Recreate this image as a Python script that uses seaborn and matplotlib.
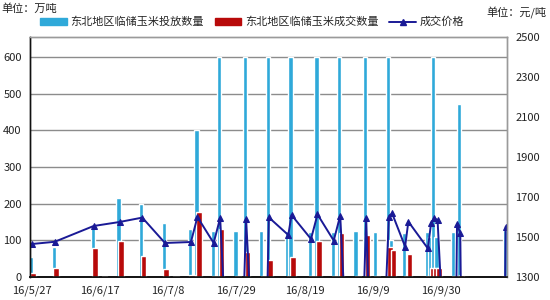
import matplotlib
matplotlib.use("Agg")
import matplotlib.pyplot as plt
import matplotlib.dates as mdates
from matplotlib.patches import Patch
from matplotlib.lines import Line2D
import numpy as np
import pandas as pd
import seaborn as sns

# ---------------- data ----------------
dates = ["2016-05-27", "2016-06-03", "2016-06-15", "2016-06-18", "2016-06-23",
         "2016-06-30", "2016-07-07", "2016-07-10", "2016-07-15", "2016-07-17",
         "2016-07-22", "2016-07-24", "2016-07-29", "2016-08-01", "2016-08-06",
         "2016-08-08", "2016-08-14", "2016-08-15", "2016-08-21", "2016-08-23",
         "2016-08-28", "2016-08-30", "2016-09-04", "2016-09-07", "2016-09-10",
         "2016-09-14", "2016-09-15", "2016-09-19", "2016-09-20", "2016-09-26",
         "2016-09-27", "2016-09-28", "2016-09-29", "2016-10-04", "2016-10-05",
         "2016-10-06", "2016-10-07", "2016-10-19", "2016-10-20"]
offered = [55, 82, 140, 0, 215,
           200, 148, 0, 130, 400,
           125, 600, 125, 600, 125,
           600, 125, 600, 124, 600,
           124, 600, 125, 600, 124,
           600, 100, 119, 0, 124,
           110, 600, 110, 124, 0,
           473, 0, 0, 128]
traded = [12, 25, 79, 3, 98,
          57, 22, 3, 5, 178,
          4, 130, 4, 67, 4,
          46, 4, 54, 4, 99,
          4, 121, 2, 115, 2,
          83, 74, 3, 63, 3,
          24, 24, 24, 3, 0,
          6, 0, 0, 3]
price = [1465, 1476, 1555, None, 1575,
         1597, 1470, None, 1475, 1600,
         1470, 1595, 0, 1590, 0,
         1598, 1510, 1610, 1490, 1613,
         1482, 1607, 0, 1597, 0,
         1602, 1618, 1452, 1577, 1443,
         1568, 1593, 1585, 0, 1565,
         1518, 0, 0, 1552]
tick_dates = ["2016-05-27", "2016-06-17", "2016-07-08", "2016-07-29",
              "2016-08-19", "2016-09-09", "2016-09-30"]
tick_labels = ["16/5/27", "16/6/17", "16/7/8", "16/7/29", "16/8/19", "16/9/9", "16/9/30"]
left_ticks = [0, 100, 200, 300, 400, 500, 600]
right_ticks = [1300, 1500, 1700, 1900, 2100, 2300, 2500]
series_names = ["东北地区临储玉米投放数量", "东北地区临储玉米成交数量", "成交价格"]

# ---------------- style ----------------
sns.set_theme(style="white")
plt.rcParams["font.family"] = ["Noto Sans CJK SC", "DejaVu Sans"]
plt.rcParams["axes.unicode_minus"] = False

BLUE = "#2FA9D9"
RED = "#B80A0A"
NAVY = "#1A1A96"

df = pd.DataFrame({"date": pd.to_datetime(dates), "offered": offered,
                   "traded": traded, "price": price})
df["x"] = mdates.date2num(df["date"])

fig = plt.figure(figsize=(5.5, 3.0), dpi=100)
ax = fig.add_axes([30 / 550, 23 / 300, 477 / 550, 240 / 300])
ax2 = ax.twinx()

ax.bar(df["x"] - 0.3, df["offered"], width=1.3, color=BLUE, zorder=2)
ax.bar(df["x"] + 0.4, df["traded"], width=1.75, color=RED, zorder=3)

pdf = df.dropna(subset=["price"])
sns.lineplot(data=pdf, x="x", y="price", ax=ax2, color=NAVY, linewidth=1.4,
             marker="^", markersize=5, markeredgecolor=NAVY, sort=False,
             legend=False)

x0 = mdates.date2num(pd.Timestamp("2016-05-27"))
ax.set_xlim(x0 - 0.6, x0 + 146.4)
ax.set_ylim(0, 600 * 240 / 220)
ax2.set_ylim(1300, 2500)

ax.set_xticks(mdates.date2num(pd.to_datetime(tick_dates)))
ax.set_xticklabels(tick_labels)
ax.set_yticks(left_ticks)
ax2.set_yticks(right_ticks)

ax.grid(axis="y", color="#8c8c8c", linewidth=1.0)
ax.set_axisbelow(True)
ax2.grid(False)

for a in (ax, ax2):
    a.set_xlabel("")
    a.set_ylabel("")
    a.tick_params(length=0, labelsize=8, colors="#222222")
ax.tick_params(axis="y", pad=6)
ax.tick_params(axis="x", pad=6)
ax2.tick_params(axis="y", pad=6)

for a in (ax, ax2):
    for s in ("top", "right"):
        a.spines[s].set_color("#9a9a9a")
        a.spines[s].set_linewidth(1.0)
    a.spines["left"].set_color("#111111")
    a.spines["bottom"].set_color("#111111")
    a.spines["left"].set_linewidth(1.0)
    a.spines["bottom"].set_linewidth(1.2)

handles = [Patch(facecolor=BLUE, edgecolor=BLUE),
           Patch(facecolor=RED, edgecolor=RED),
           Line2D([0], [0], color=NAVY, linewidth=1.4, marker="^", markersize=5)]
fig.legend(handles, series_names, loc="center", ncol=3,
           bbox_to_anchor=(252 / 550, 1 - 22 / 300), frameon=False,
           fontsize=8, handlelength=2.4, handleheight=0.6, handletextpad=0.3,
           columnspacing=1.0, borderpad=0.2)

fig.text(1 / 550, 1 - 9 / 300, "单位：万吨", fontsize=8, ha="left", va="center",
         color="#222222")
fig.text(546 / 550, 1 - 13 / 300, "单位：元/吨", fontsize=8, ha="right", va="center",
         color="#222222")

fig.savefig("out.png", dpi=100)
